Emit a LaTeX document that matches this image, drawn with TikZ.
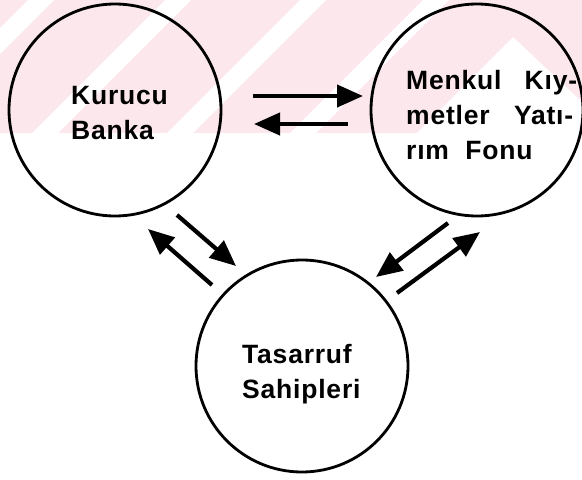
\documentclass[tikz,border=0pt]{standalone}
\usepackage{fontspec}
\setmainfont{Liberation Sans}
\newfontfamily\lblfont[LetterSpace=3,BoldFont={Liberation Sans Bold}]{Liberation Sans}
\usetikzlibrary{arrows.meta}
\definecolor{wmpink}{RGB}{252,232,236}
\tikzset{
  ring/.style={draw=black, line width=2.8pt, circle, minimum size=212pt, inner sep=0pt},
  lbl/.style={font=\lblfont\bfseries\fontsize{26.5pt}{35pt}\selectfont, align=left, inner sep=0pt},
  flow/.style={line width=4.2pt, -{Triangle[length=26pt,width=22pt]}},
}
\begin{document}
\begin{tikzpicture}[x=1pt,y=-1pt]
\useasboundingbox (0,0) rectangle (582,480);
% watermark band
\begin{scope}
\clip (0,0) rectangle (582,133);
\fill[wmpink] (0,0) rectangle (582,133);
\foreach \s in {-105,32,167,290} {
  \fill[white] (\s,133) -- (\s+26,133) -- (\s+159,0) -- (\s+133,0) -- cycle;
}
\fill[white] (513,37) -- (417,133) -- (582,133) -- (582,102) -- cycle;
\end{scope}
% circles
\node[ring] (kb) at (115,110) {};
\node[ring] (mk) at (477,110) {};
\node[ring] (ts) at (302,366) {};
% labels (anchored at the baseline of the last line)
\node[lbl, anchor=base west] (kbt) at (71,139) {Kurucu\\Banka};
\node[lbl, anchor=base west] (mkt) at (406,159) {\makebox[171pt][s]{Menkul\hfill Kıy-}\\\makebox[167pt][s]{metler\hfill Yatı-}\\rım\ \ Fonu};
\node[lbl, anchor=base west] (tst) at (242,398) {Tasarruf\\Sahipleri};
% arrow end points
\coordinate (a1s) at (253,96);  \coordinate (a1e) at (363,96);
\coordinate (a2s) at (348,124); \coordinate (a2e) at (254,124);
\coordinate (a3s) at (177,215); \coordinate (a3e) at (236,266);
\coordinate (a4s) at (212,285); \coordinate (a4e) at (148,229);
\coordinate (a5s) at (448,223); \coordinate (a5e) at (376,277);
\coordinate (a6s) at (397,293); \coordinate (a6e) at (480,232);
\draw[flow] (a1s) -- (a1e);
\draw[flow] (a2s) -- (a2e);
\draw[flow] (a3s) -- (a3e);
\draw[flow] (a4s) -- (a4e);
\draw[flow] (a5s) -- (a5e);
\draw[flow] (a6s) -- (a6e);
\end{tikzpicture}
\end{document}
